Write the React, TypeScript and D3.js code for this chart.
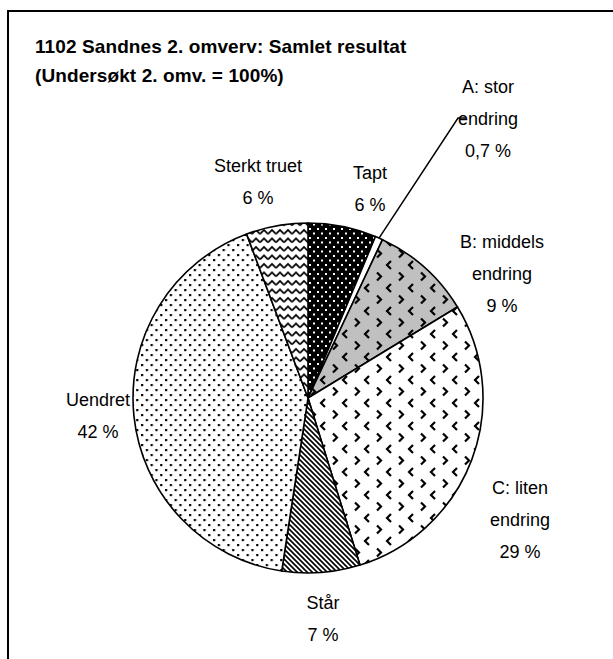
import React from "react";
import * as d3 from "d3";

const categories = ["Tapt", "A: stor endring", "B: middels endring", "C: liten endring", "Står", "Uendret", "Sterkt truet"];
const values = [6.3, 0.7, 9.3, 28.9, 7.2, 41.9, 5.7];
const pctLabels = ["6 %", "0,7 %", "9 %", "29 %", "7 %", "42 %", "6 %"];
const labelLines = [["Tapt"], ["A: stor", "endring"], ["B: middels", "endring"], ["C: liten", "endring"], ["Står"], ["Uendret"], ["Sterkt truet"]];

// layout (label anchor centers, first line)
const labelPos: [number, number][] = [
  [370, 172], [488, 86], [502, 241], [520, 487], [323, 602], [98, 399], [258, 165],
];
const fills = ["url(#pTapt)", "#ffffff", "url(#pB)", "url(#pC)", "url(#pStar)", "url(#pUendret)", "url(#pSterkt)"];

const W = 613, H = 659;
const cx = 308, cy = 398, R = 175;
const lineH = 32;
const font = "'Liberation Sans', Arial, sans-serif";

export default function App() {
  const pie = d3.pie<number>().sort(null).value((d) => d).startAngle(0).endAngle(2 * Math.PI);
  const arcs = pie(values);
  const arc = d3.arc<d3.PieArcDatum<number>>().innerRadius(0).outerRadius(R);
  const aMid = (arcs[1].startAngle + arcs[1].endAngle) / 2;
  const ax = cx + Math.sin(aMid) * R;
  const ay = cy - Math.cos(aMid) * R;

  const chevL = "M17,1 L13,5 L17,9";
  const chevR = "M3,12.5 L7,16.5 L3,20.5";

  return (
    <svg width={W} height={H} style={{ position: "absolute", left: 0, top: 0, background: "#fff" }}>
      <defs>
        <pattern id="pTapt" patternUnits="userSpaceOnUse" width={8} height={9}>
          <rect width={8} height={9} fill="#000" />
          <rect x={1} y={1} width={2} height={2} fill="#fff" />
          <rect x={5} y={5.5} width={2} height={2} fill="#fff" />
        </pattern>
        <pattern id="pUendret" patternUnits="userSpaceOnUse" width={9.6} height={10}>
          <rect width={9.6} height={10} fill="#fff" />
          <rect x={1} y={1} width={2.2} height={2.2} fill="#000" />
          <rect x={5.8} y={6} width={2.2} height={2.2} fill="#000" />
        </pattern>
        <pattern id="pC" patternUnits="userSpaceOnUse" width={22} height={23}>
          <rect width={22} height={23} fill="#fff" />
          <path d={chevL} stroke="#000" strokeWidth={2.2} fill="none" />
          <path d={chevR} stroke="#000" strokeWidth={2.2} fill="none" />
        </pattern>
        <pattern id="pB" patternUnits="userSpaceOnUse" width={22} height={23}>
          <rect width={22} height={23} fill="#c0c0c0" />
          <path d={chevL} stroke="#000" strokeWidth={2.2} fill="none" />
          <path d={chevR} stroke="#000" strokeWidth={2.2} fill="none" />
        </pattern>
        <pattern id="pStar" patternUnits="userSpaceOnUse" width={5} height={5}>
          <rect width={5} height={5} fill="#fff" />
          <path d="M-1,-1 L6,6 M-1,4 L1,6 M4,-1 L6,1" stroke="#000" strokeWidth={1.6} />
        </pattern>
        <pattern id="pSterkt" patternUnits="userSpaceOnUse" width={8} height={8.5}>
          <rect width={8} height={8.5} fill="#fff" />
          <path d="M0,6 L4,2 L8,6" stroke="#000" strokeWidth={1.7} fill="none" />
        </pattern>
      </defs>

      <path d={`M8,${H + 5} L8,11 L${W + 5},11`} fill="none" stroke="#000" strokeWidth={2} />

      <text x={35} y={53} fontFamily={font} fontWeight="bold" fontSize={19} letterSpacing={0.1} fill="#000">
        1102 Sandnes 2. omverv: Samlet resultat
      </text>
      <text x={35} y={82} fontFamily={font} fontWeight="bold" fontSize={19} letterSpacing={0.1} fill="#000">
        (Undersøkt 2. omv. = 100%)
      </text>

      <g transform={`translate(${cx},${cy})`}>
        {arcs.map((a, i) => (
          <path key={categories[i]} d={arc(a) || ""} fill={fills[i]} stroke="#000" strokeWidth={1.6} strokeLinejoin="round" />
        ))}
      </g>

      <polyline points={`${ax},${ay} 458,118 466,118`} fill="none" stroke="#000" strokeWidth={1.5} />

      {categories.map((c, i) => {
        const lines = [...labelLines[i], pctLabels[i]];
        return (
          <text key={c} fontFamily={font} fontSize={18} textAnchor="middle" fill="#000">
            {lines.map((l, j) => (
              <tspan key={j} x={labelPos[i][0]} y={labelPos[i][1] + 7 + j * lineH}>{l}</tspan>
            ))}
          </text>
        );
      })}
    </svg>
  );
}
